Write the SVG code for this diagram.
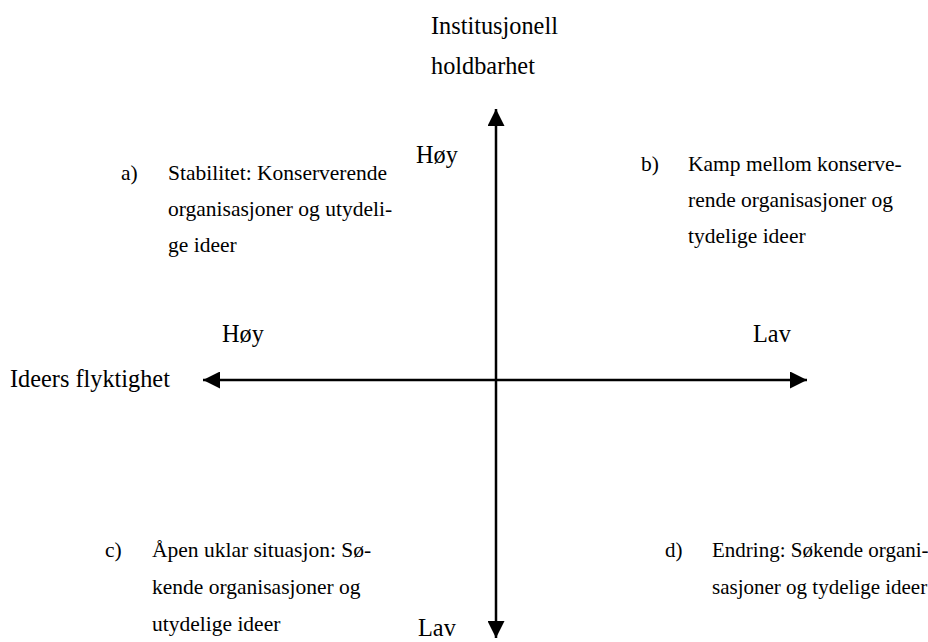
<svg xmlns="http://www.w3.org/2000/svg" width="928" height="642" viewBox="0 0 928 642">
<style>
text{font-family:"Liberation Serif","Times New Roman",serif;fill:#000}
.ax{font-size:24.3px}
.q{font-size:21.5px}
.qd{font-size:21px}
.line{stroke:#000;stroke-width:2.5;fill:none}
</style>
<defs>
<marker id="ah" viewBox="0 0 10 10" refX="10" refY="5" markerWidth="17" markerHeight="17" markerUnits="userSpaceOnUse" orient="auto">
<path d="M0,0 L10,5 L0,10 z" fill="#000"/>
</marker>
</defs>
<rect width="928" height="642" fill="#fff"/>
<g id="connectors">
<line class="line" x1="496" y1="380" x2="496" y2="109" marker-end="url(#ah)"/>
<line class="line" x1="496" y1="380" x2="496" y2="638" marker-end="url(#ah)"/>
<line class="line" x1="496" y1="380" x2="203" y2="380" marker-end="url(#ah)"/>
<line class="line" x1="496" y1="380" x2="807" y2="380" marker-end="url(#ah)"/>
</g>
<g id="axis-y-label">
<text class="ax" x="431" y="34">Institusjonell</text>
<text class="ax" x="431" y="74">holdbarhet</text>
</g>
<g id="axis-x-label"><text class="ax" x="10" y="387">Ideers flyktighet</text></g>
<g id="y-high"><text class="ax" x="416" y="163">Høy</text></g>
<g id="y-low"><text class="ax" x="418" y="636" font-size="23px">Lav</text></g>
<g id="x-high"><text class="ax" x="222" y="342">Høy</text></g>
<g id="x-low"><text class="ax" x="753" y="342">Lav</text></g>
<g id="quadrant-a">
<text class="q" x="121" y="180">a)</text>
<text class="q" x="168" y="180">Stabilitet: Konserverende</text>
<text class="q" x="168" y="216">organisasjoner og utydeli-</text>
<text class="q" x="168" y="252">ge ideer</text>
</g>
<g id="quadrant-b">
<text class="q" x="641" y="171">b)</text>
<text class="q" x="688" y="171">Kamp mellom konserve-</text>
<text class="q" x="688" y="207">rende organisasjoner og</text>
<text class="q" x="688" y="243">tydelige ideer</text>
</g>
<g id="quadrant-c">
<text class="q" x="105" y="557">c)</text>
<text class="q" x="152" y="557">Åpen uklar situasjon: Sø-</text>
<text class="q" x="152" y="594">kende organisasjoner og</text>
<text class="q" x="152" y="631">utydelige ideer</text>
</g>
<g id="quadrant-d">
<text class="qd" x="665" y="557">d)</text>
<text class="qd" x="712" y="557">Endring: Søkende organi-</text>
<text class="qd" x="712" y="594">sasjoner og tydelige ideer</text>
</g>
</svg>
